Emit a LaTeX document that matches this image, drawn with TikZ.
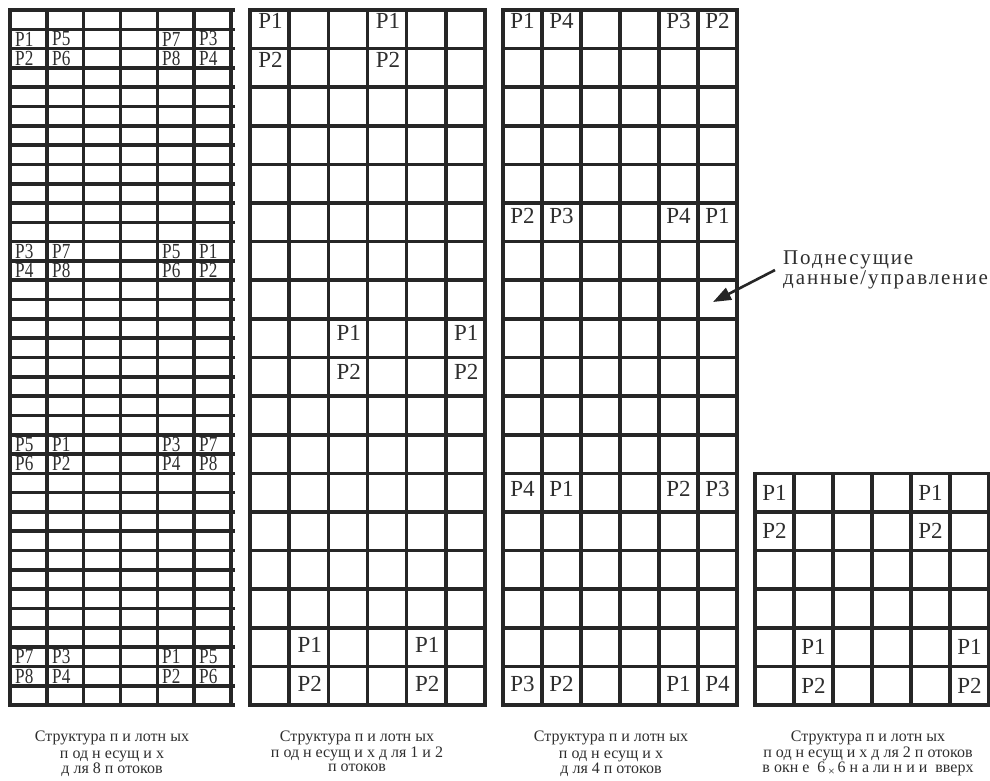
\documentclass[tikz,border=0pt]{standalone}
\usepackage{fontspec}
\usepackage{graphicx}
\setmainfont{Liberation Serif}
\usetikzlibrary{arrows.meta}
\definecolor{gridc}{HTML}{262626}
\definecolor{txtc}{HTML}{2E2E2E}

\begin{document}
\begin{tikzpicture}[x=1pt,y=-1pt,>={Triangle[length=18pt,width=13pt]},
  gline/.style={line width=3.6pt,gridc,line cap=rect},
  plt/.style={inner sep=0pt,txtc,font=\fontsize{23}{25}\selectfont},
  pltn/.style={plt,anchor=west,font=\fontsize{21.5}{22}\selectfont},
  captxt/.style={align=center,txtc,inner sep=0pt,font=\fontsize{16}{13.5}\selectfont}]
\useasboundingbox[fill=white] (0,0) rectangle (990,780);

% Left: 8 streams, 36 half-height rows
\foreach \r/\a/\b/\c/\d in {1/1/5/7/3,12/3/7/5/1,22/5/1/3/7,33/7/3/1/5}{
  \pgfmathsetmacro{\ya}{10+19.306*(\r+0.5)}
  \pgfmathsetmacro{\yb}{10+19.306*(\r+1.5)}
  \pgfmathtruncatemacro{\aa}{\a+1}
  \pgfmathtruncatemacro{\bb}{\b+1}
  \pgfmathtruncatemacro{\cc}{\c+1}
  \pgfmathtruncatemacro{\dd}{\d+1}
  \node[pltn] (e\r a) at (15,\ya) {\scalebox{0.8}[1]{P\a}};
  \node[pltn] (e\r b) at (52,\ya) {\scalebox{0.8}[1]{P\b}};
  \node[pltn] (e\r c) at (162,\ya) {\scalebox{0.8}[1]{P\c}};
  \node[pltn] (e\r d) at (199,\ya) {\scalebox{0.8}[1]{P\d}};
  \node[pltn] (f\r a) at (15,\yb) {\scalebox{0.8}[1]{P\aa}};
  \node[pltn] (f\r b) at (52,\yb) {\scalebox{0.8}[1]{P\bb}};
  \node[pltn] (f\r c) at (162,\yb) {\scalebox{0.8}[1]{P\cc}};
  \node[pltn] (f\r d) at (199,\yb) {\scalebox{0.8}[1]{P\dd}};
}
\foreach \i in {0,...,6} \draw[gline] (10+36.83*\i,10) -- (10+36.83*\i,705);
\foreach \j in {0,...,36} \draw[gline] (10,10+19.306*\j) -- (233,10+19.306*\j);

% 1 and 2 streams
\foreach \r/\c in {0/0,0/3,8/2,8/5,16/1,16/4}{
  \node[plt] (s\r c\c) at (250+39.17*\c+20.5,20.5+39*\r) {P1};
  \node[plt] (t\r c\c) at (250+39.17*\c+20.5,59.5+39*\r) {P2};
}
\foreach \i in {0,...,6} \draw[gline] (250+39.17*\i,10) -- (250+39.17*\i,705);
\foreach \j in {0,...,18} \draw[gline] (250,10+38.61*\j) -- (485,10+38.61*\j);

% 4 streams
\foreach \r/\a/\b/\c/\d in {0/1/4/3/2,5/2/3/4/1,12/4/1/2/3,17/3/2/1/4}{
  \node[plt] (q\r a) at (522.5,20.5+39*\r) {P\a};
  \node[plt] (q\r b) at (561.5,20.5+39*\r) {P\b};
  \node[plt] (q\r c) at (678.5,20.5+39*\r) {P\c};
  \node[plt] (q\r d) at (717.5,20.5+39*\r) {P\d};
}
\foreach \i in {0,...,6} \draw[gline] (503+39*\i,10) -- (503+39*\i,705);
\foreach \j in {0,...,18} \draw[gline] (503,10+38.61*\j) -- (737,10+38.61*\j);

% 2 streams, 6x6 window
\foreach \r/\c in {0/0,0/4,4/1,4/5}{
  \node[plt] (w\r c\c) at (755+39*\c+19.5,473.3+38.61*\r+19.3) {P1};
  \node[plt] (v\r c\c) at (755+39*\c+19.5,473.3+38.61*\r+57.9) {P2};
}
\foreach \i in {0,...,6} \draw[gline] (755+39*\i,473.3) -- (755+39*\i,705);
\foreach \j in {0,...,6} \draw[gline] (755,473.3+38.61*\j) -- (989,473.3+38.61*\j);

% callout
\node[anchor=north west,align=left,txtc,inner xsep=8pt,inner ysep=0pt,
  font=\fontsize{21}{14.5}\selectfont\addfontfeatures{LetterSpace=9}] (sub) at (775,251) {Поднесущие\\данные/управление};
\coordinate (subtip) at (713,302);
\draw[->,line width=2.6pt,gridc] (sub.west) -- (subtip);

% captions
\node[captxt,anchor=north] (cap1) at (112,730.5) {Структура п и лотн ых\\[4pt]п од н есущ и х\\д ля 8 п отоков};
\node[captxt,anchor=north] (cap2) at (357,730.5) {Структура п и лотн ых\\[1.5pt]п од н есущ и х д ля 1 и 2\\п отоков};
\node[captxt,anchor=north] (cap3) at (611,730.5) {Структура п и лотн ых\\[4pt]п од н есущ и х\\д ля 4 п отоков};
\node[captxt,anchor=north] (cap4) at (868,730.5) {Структура п и лотн ых\\[1.5pt]п од н есущ и х д ля 2 п отоков\\в окн е \ 6\,\raisebox{-0.4ex}{\fontsize{12}{12}\selectfont ×}\,6 н а ли н и и \ вверх};
\end{tikzpicture}
\end{document}
